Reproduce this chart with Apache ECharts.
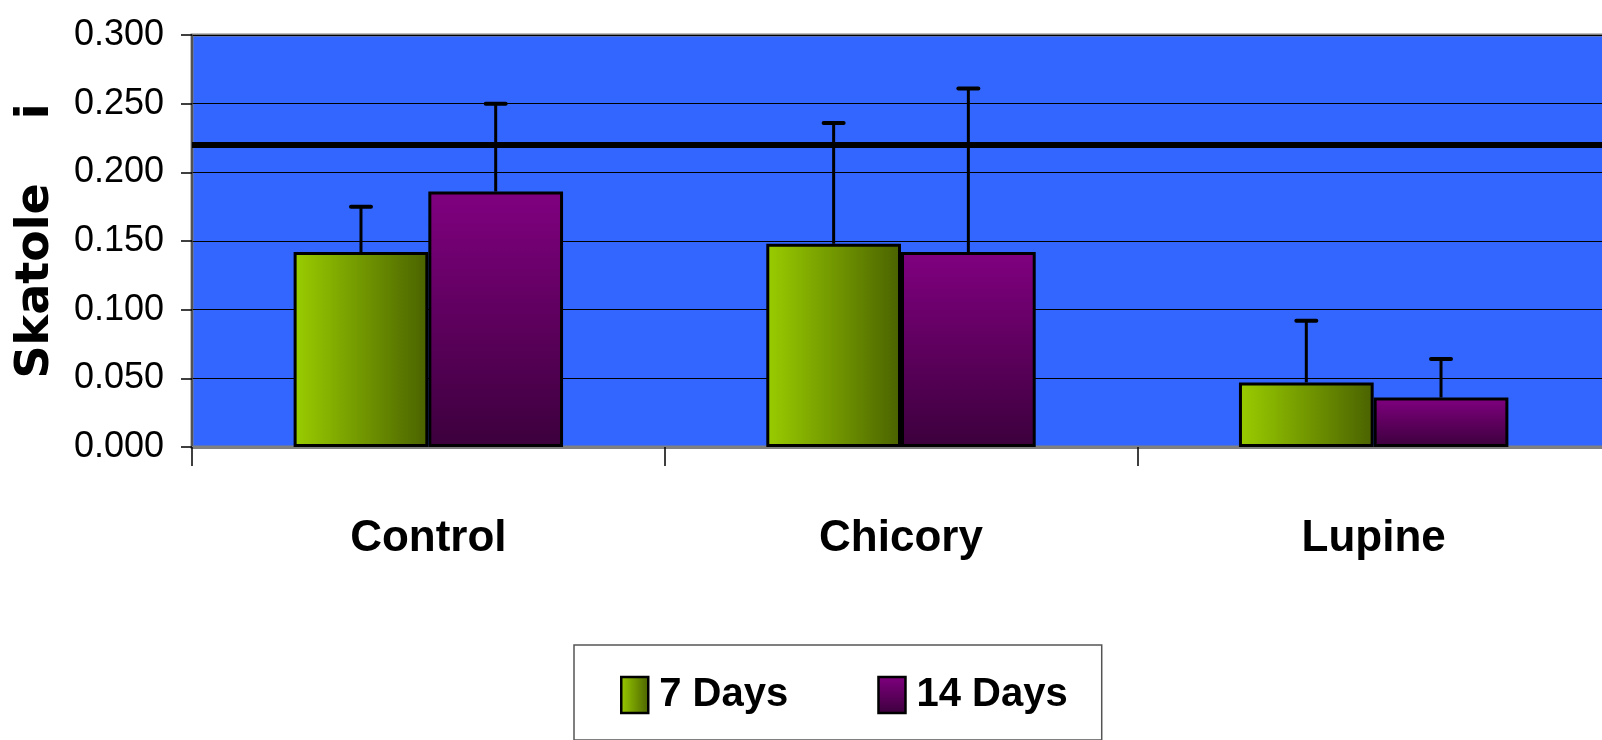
<!DOCTYPE html>
<html>
<head>
<meta charset="utf-8">
<script src="https://cdn.jsdelivr.net/npm/echarts@6/dist/echarts.min.js"></script>
<style>
html,body{margin:0;padding:0;background:#fff;}
#c{width:1602px;height:740px;}
</style>
</head>
<body>
<div id="c"></div>
<script>
const categories = ['Control', 'Chicory', 'Lupine'];
const seriesNames = ['7 Days', '14 Days'];
const days7 = [0.142, 0.148, 0.047];
const days14 = [0.186, 0.142, 0.036];
const err7 = [0.033, 0.088, 0.045];
const err14 = [0.064, 0.119, 0.028];
const referenceLevel = 0.220;
const yTicks = { min: 0, max: 0.3, interval: 0.05 };

const NARROW = "'Liberation Sans Narrow', 'Arial Narrow', 'Liberation Sans', Arial, sans-serif";
const BAR_FRAC = 0.285;

const greenGrad = new echarts.graphic.LinearGradient(0, 0, 1, 0, [
  { offset: 0, color: '#9ACD00' },
  { offset: 1, color: '#4A6200' }
]);
const purpleGrad = new echarts.graphic.LinearGradient(0, 0, 0, 1, [
  { offset: 0, color: '#800080' },
  { offset: 1, color: '#3C003C' }
]);

function errData(vals, errs) {
  return vals.map((v, i) => [i, v + errs[i], v]);
}

function makeErrRender(side) {
  return function (params, api) {
    const idx = api.value(0);
    const top = api.coord([idx, api.value(1)]);
    const base = api.coord([idx, api.value(2)]);
    const band = api.size([1, 0])[0];
    const off = side * band * BAR_FRAC / 2;
    const x = top[0] + off;
    const cap = 10;
    return {
      type: 'group',
      children: [
        { type: 'line', shape: { x1: x, y1: base[1], x2: x, y2: top[1] }, style: { stroke: '#000', lineWidth: 3 } },
        { type: 'line', shape: { x1: x - cap, y1: top[1], x2: x + cap, y2: top[1] }, style: { stroke: '#000', lineWidth: 4, lineCap: 'round' } }
      ]
    };
  };
}

const chart = echarts.init(document.getElementById('c'));
chart.setOption({
  animation: false,
  backgroundColor: '#fff',
  grid: {
    left: 192, top: 35, bottom: 293, right: -8,
    containLabel: false, outerBoundsMode: 'none',
    show: true, backgroundColor: '#3366FF', borderColor: '#808080', borderWidth: 3
  },
  legend: {
    data: seriesNames,
    left: 574, top: 645,
    orient: 'horizontal',
    icon: 'rect',
    itemWidth: 27, itemHeight: 36, itemGap: 89,
    padding: [30, 34, 25, 46],
    borderColor: '#555', borderWidth: 1.5,
    backgroundColor: '#fff',
    textStyle: { fontFamily: NARROW, fontWeight: 'bold', fontSize: 40, color: '#000', padding: [0, 0, 0, 6] },
    itemStyle: { borderColor: '#000', borderWidth: 2.5 }
  },
  xAxis: {
    type: 'category',
    data: categories,
    axisLine: { show: true, lineStyle: { color: '#808080', width: 3 } },
    axisTick: { show: true, length: 19, lineStyle: { color: '#000', width: 1.5 } },
    axisLabel: { fontFamily: NARROW, fontWeight: 'bold', fontSize: 44, color: '#000', margin: 70 },
    splitLine: { show: false }
  },
  yAxis: {
    type: 'value',
    min: yTicks.min, max: yTicks.max, interval: yTicks.interval,
    name: 'Skatole    i',
    nameLocation: 'middle',
    nameGap: 133,
    nameTextStyle: { fontFamily: "'DejaVu Sans', sans-serif", fontWeight: 'bold', fontSize: 46, color: '#000' },
    axisLine: { show: true, lineStyle: { color: '#444', width: 1.5 } },
    axisTick: { show: true, length: 11, lineStyle: { color: '#000', width: 1.5 } },
    axisLabel: {
      fontFamily: NARROW, fontSize: 36, color: '#000', margin: 28,
      formatter: v => v.toFixed(3)
    },
    splitLine: { show: true, lineStyle: { color: '#000', width: 1.2 } }
  },
  series: [
    {
      name: seriesNames[0], type: 'bar', data: days7,
      barWidth: (BAR_FRAC * 100) + '%', barGap: '0%',
      itemStyle: { color: greenGrad, borderColor: '#000', borderWidth: 3 },
      z: 3,
      markLine: {
        silent: true, symbol: 'none', label: { show: false },
        lineStyle: { color: '#000', width: 6, type: 'solid' },
        data: [{ yAxis: referenceLevel }],
        z: 4
      }
    },
    {
      name: seriesNames[1], type: 'bar', data: days14,
      barWidth: (BAR_FRAC * 100) + '%', barGap: '0%',
      itemStyle: { color: purpleGrad, borderColor: '#000', borderWidth: 3 },
      z: 3
    },
    {
      type: 'custom', renderItem: makeErrRender(-1), data: errData(days7, err7),
      encode: { x: 0, y: [1, 2] }, z: 2, silent: true
    },
    {
      type: 'custom', renderItem: makeErrRender(1), data: errData(days14, err14),
      encode: { x: 0, y: [1, 2] }, z: 2, silent: true
    }
  ]
});
</script>
</body>
</html>
